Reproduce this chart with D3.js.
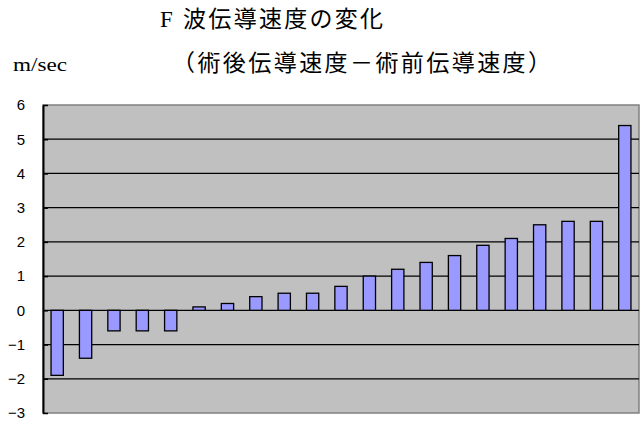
<!DOCTYPE html>
<html>
<head>
<meta charset="utf-8">
<script src="https://cdn.jsdelivr.net/npm/d3@7"></script>
<style>
  html, body { margin: 0; padding: 0; background: #fff; }
  svg { display: block; }
</style>
</head>
<body>
<svg id="chart" width="640" height="423"></svg>
<script>
// Change in F-wave conduction velocity per case (post-op minus pre-op), m/sec
const cases = d3.range(1, 22).map(String);
const velocityChange = [-1.9, -1.4, -0.6, -0.6, -0.6, 0.1, 0.2, 0.4, 0.5, 0.5,
                        0.7, 1.0, 1.2, 1.4, 1.6, 1.9, 2.1, 2.5, 2.6, 2.6, 5.4];
const yTicks = [-3, -2, -1, 0, 1, 2, 3, 4, 5, 6];
const titleText = "F 波伝導速度の変化";
const subtitleText = "（術後伝導速度－術前伝導速度）";
const unitText = "m/sec";

const svg = d3.select("#chart");
const plot = { left: 43, right: 639, top: 105, bottom: 413 };

const x = d3.scaleBand()
  .domain(cases)
  .range([plot.left, plot.right])
  .paddingInner(0.567)
  .paddingOuter(0.2835);

const y = d3.scaleLinear()
  .domain([-3, 6])
  .range([plot.bottom, plot.top]);

// titles
svg.append("text")
  .attr("x", 160).attr("y", 27)
  .attr("font-family", "'Liberation Serif', 'Noto Sans CJK JP', serif")
  .attr("font-size", 23)
  .attr("textLength", 223)
  .attr("lengthAdjust", "spacing")
  .attr("fill", "#000")
  .text(titleText);

svg.append("text")
  .attr("x", 172).attr("y", 71)
  .attr("font-family", "'Noto Sans CJK JP', serif")
  .attr("font-size", 23)
  .attr("textLength", 379)
  .attr("lengthAdjust", "spacing")
  .attr("fill", "#000")
  .text(subtitleText);

svg.append("text")
  .attr("x", 13).attr("y", 70.5)
  .attr("font-family", "'Liberation Serif', serif")
  .attr("font-size", 18)
  .attr("textLength", 54)
  .attr("lengthAdjust", "spacingAndGlyphs")
  .attr("fill", "#000")
  .text(unitText);

// plot area
svg.append("rect")
  .attr("x", plot.left).attr("y", plot.top)
  .attr("width", plot.right - plot.left)
  .attr("height", plot.bottom - plot.top)
  .attr("fill", "#c0c0c0")
  .attr("stroke", "#808080")
  .attr("stroke-width", 1.5);

// horizontal gridlines
svg.append("g")
  .selectAll("line")
  .data(yTicks.filter(t => t > -3 && t < 6))
  .join("line")
  .attr("x1", plot.left).attr("x2", plot.right)
  .attr("y1", d => y(d)).attr("y2", d => y(d))
  .attr("stroke", "#000")
  .attr("stroke-width", 1.3);

// bars
svg.append("g")
  .selectAll("rect")
  .data(velocityChange)
  .join("rect")
  .attr("x", (d, i) => x(cases[i]))
  .attr("width", x.bandwidth())
  .attr("y", d => y(Math.max(0, d)))
  .attr("height", d => Math.abs(y(d) - y(0)))
  .attr("fill", "#9999ff")
  .attr("stroke", "#000")
  .attr("stroke-width", 1.3);

// value axis: inside ticks with labels on the left
const yAxis = d3.axisLeft(y)
  .tickValues(yTicks)
  .tickSizeInner(-5)
  .tickSizeOuter(0)
  .tickPadding(18)
  .tickFormat(d => d < 0 ? "\u2212" + Math.abs(d) : String(d));

const axisG = svg.append("g")
  .attr("transform", `translate(${plot.left},0)`)
  .call(yAxis);

axisG.select(".domain")
  .attr("stroke", "#000")
  .attr("stroke-width", 2);
axisG.selectAll(".tick line")
  .attr("stroke", "#000")
  .attr("stroke-width", 1.5);
axisG.selectAll(".tick text")
  .attr("font-family", "'Liberation Sans', Arial, sans-serif")
  .attr("font-size", 15)
  .attr("fill", "#000");
</script>
</body>
</html>
